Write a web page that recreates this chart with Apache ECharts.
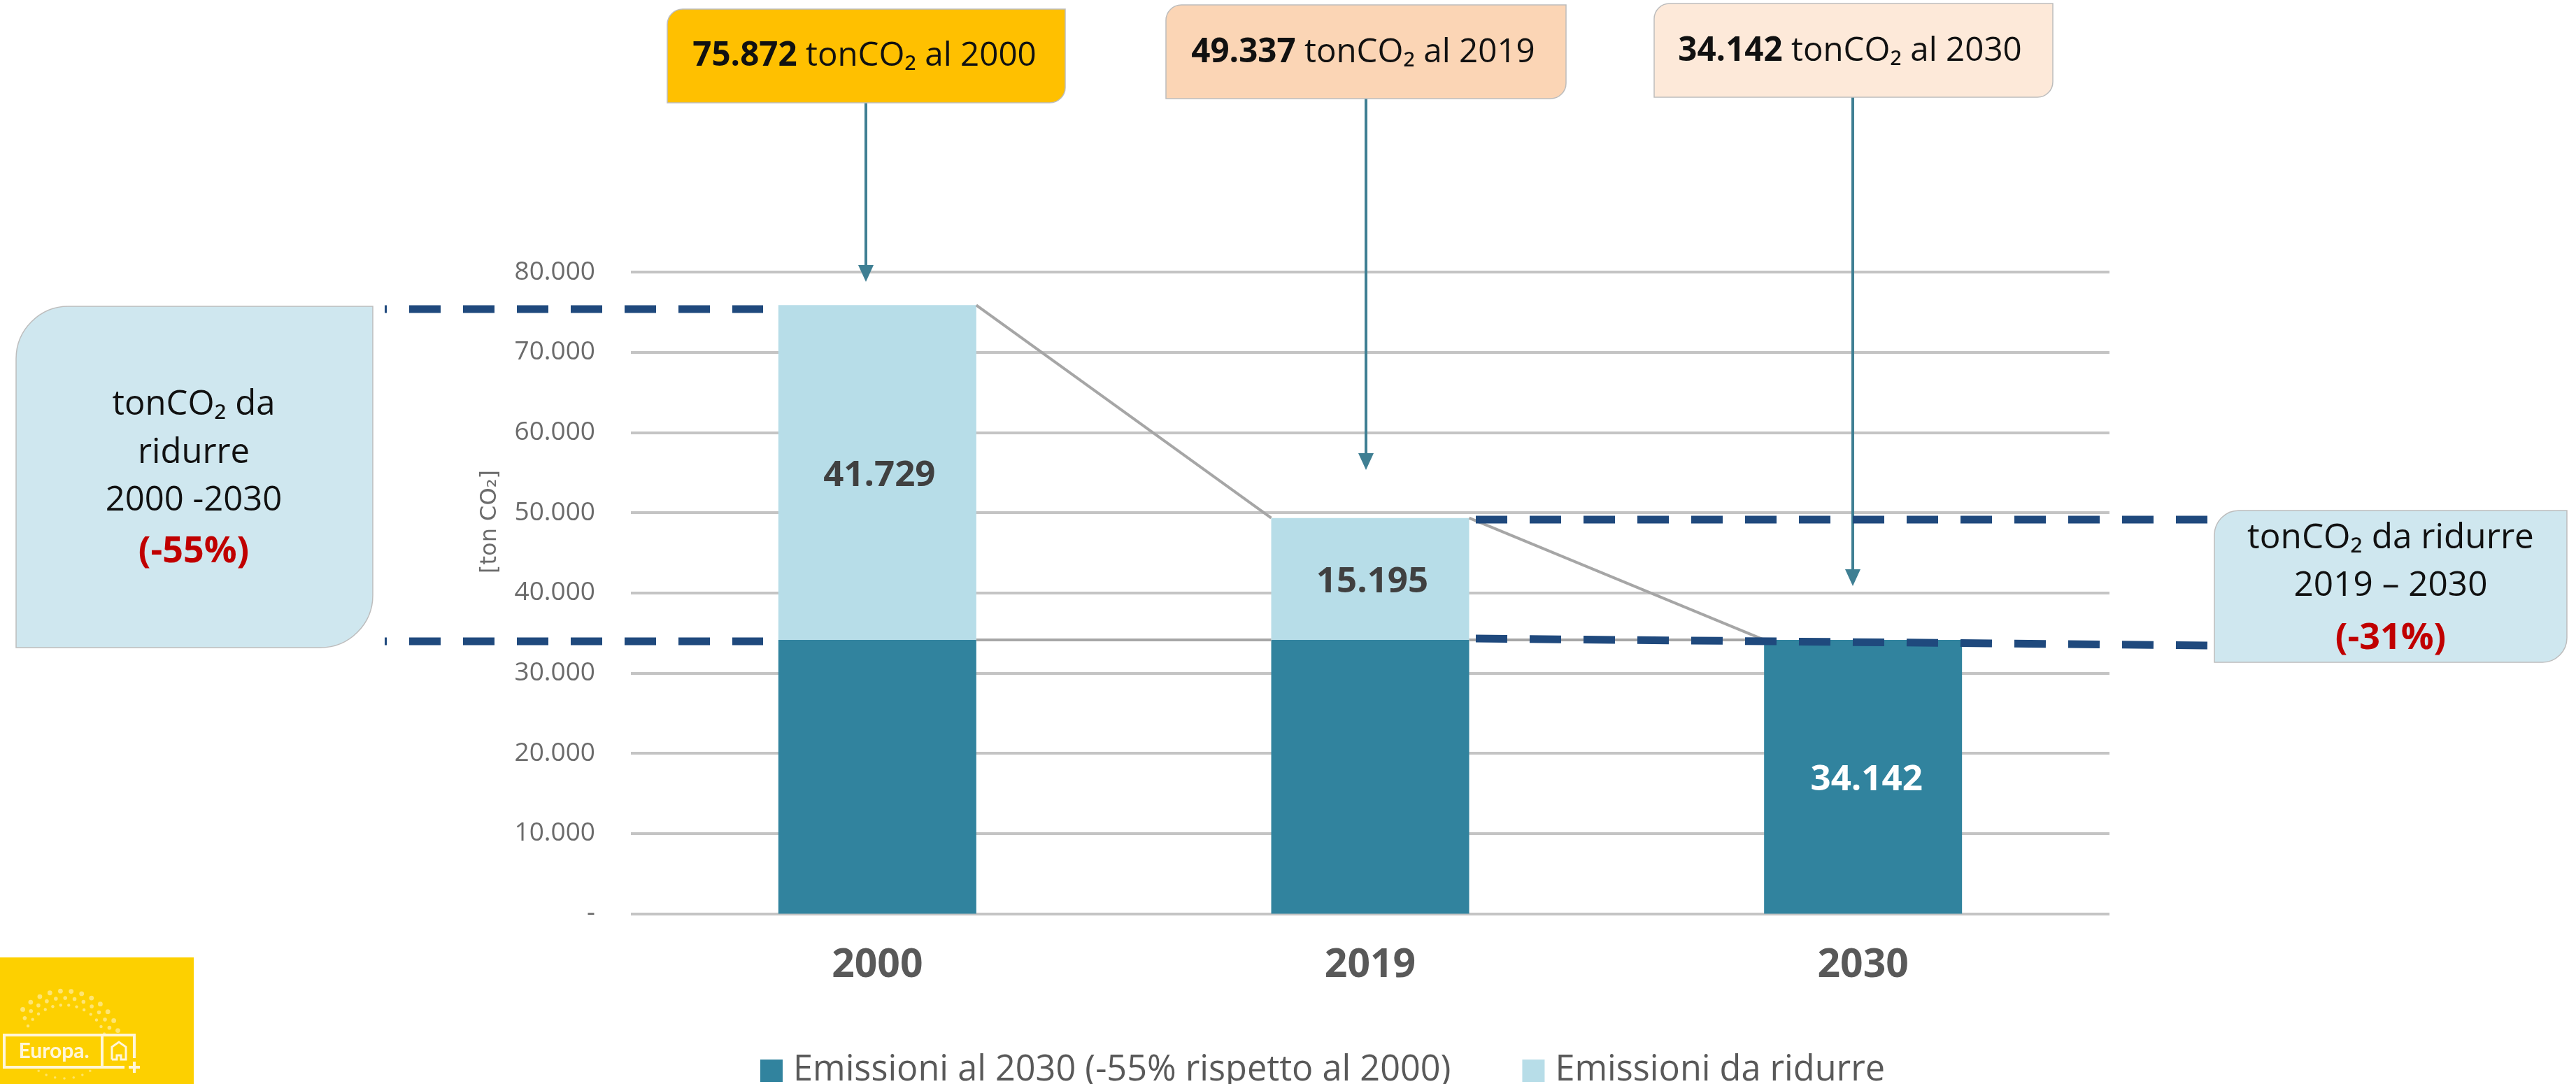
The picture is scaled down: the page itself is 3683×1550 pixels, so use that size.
<!DOCTYPE html>
<html>
<head>
<meta charset="utf-8">
<style>
  html, body { margin: 0; padding: 0; background: #fff; }
  #chart { width: 3683px; height: 1550px; }
</style>
<script src="https://cdn.jsdelivr.net/npm/echarts@6/dist/echarts.min.js"></script>
</head>
<body>
<div id="chart"></div>
<script>
const years = ["2000", "2019", "2030"];
const target = [34142, 34142, 34142];
const toReduce = [41729, 15195, 0];
const targetName = "Emissioni al 2030 (-55% rispetto al 2000)";
const reduceName = "Emissioni da ridurre";

const font = "Open Sans";
const barW = 283;
const dashBlue = "#1f497d";
const arrowCol = "#3f7f93";

function fmt(v) {
  return String(v).replace(/\B(?=(\d{3})+$)/g, ".");
}

// rows for the thin lines between the bars
const links = [];
for (let i = 0; i < years.length - 1; i++) {
  links.push([i, target[i] + toReduce[i], target[i + 1] + toReduce[i + 1]]);
  links.push([i, target[i], target[i + 1]]);
}

function box(x, y, w, h, r, fill) {
  return {
    type: "rect", z: 20,
    shape: { x: x, y: y, width: w, height: h, r: r },
    style: { fill: fill, stroke: "#bdbdbd", lineWidth: 1.5 }
  };
}

function calloutText(cx, cy, bold, rest) {
  return {
    type: "text", z: 21, x: cx, y: cy,
    style: {
      text: "{b|" + bold + "}{n|" + rest + "}",
      align: "center", verticalAlign: "middle",
      rich: {
        b: { fontFamily: font, fontSize: 47.5, fontWeight: "bold", fill: "#111" },
        n: { fontFamily: font, fontSize: 47.5, fill: "#111" }
      }
    }
  };
}

function plainText(cx, cy, text, size, color, weight) {
  return {
    type: "text", z: 21, x: cx, y: cy,
    style: {
      text: text, align: "center", verticalAlign: "middle",
      fontFamily: font, fontSize: size, fontWeight: weight || "normal", fill: color
    }
  };
}

function arrow(x, y1, y2) {
  return [
    { type: "line", z: 15, shape: { x1: x, y1: y1, x2: x, y2: y2 - 15 }, style: { stroke: arrowCol, lineWidth: 4 } },
    { type: "polygon", z: 15, shape: { points: [[x - 11, y2 - 24], [x + 11, y2 - 24], [x, y2]] }, style: { fill: arrowCol } }
  ];
}

function dashed(x1, y1, x2, y2, offset) {
  return {
    type: "line", z: 16,
    shape: { x1: x1, y1: y1, x2: x2, y2: y2 },
    style: { stroke: dashBlue, lineWidth: 11, lineDash: [45, 32], lineDashOffset: offset || 0 }
  };
}

// logo, bottom left corner
function logo() {
  const white = "#fff6d8";
  const items = [{ type: "rect", z: 5, shape: { x: 0, y: 1369, width: 277, height: 181 }, style: { fill: "#fdd000" } }];
  const rings = [[60, 2.2], [70, 2.8], [80, 3.4]];
  rings.forEach(function (ring, k) {
    for (let a = -150 + k * 6; a < 20; a += 11) {
      const t = a * Math.PI / 180;
      items.push({
        type: "circle", z: 6,
        shape: { cx: 92 + ring[0] * Math.cos(t), cy: 1497 + ring[0] * Math.sin(t), r: ring[1] },
        style: { fill: "rgba(255,255,255,0.45)" }
      });
    }
  });
  for (let a = 20; a < 160; a += 14) {
    const t = a * Math.PI / 180;
    items.push({
      type: "circle", z: 6,
      shape: { cx: 92 + 55 * Math.cos(t), cy: 1500 + 42 * Math.sin(t), r: 1.8 },
      style: { fill: "rgba(255,255,255,0.4)" }
    });
  }
  items.push({ type: "rect", z: 7, shape: { x: 5, y: 1480, width: 188, height: 47 }, style: { fill: "#fdd000" } });
  items.push({
    type: "polyline", z: 8,
    shape: { points: [[178, 1526], [6, 1526], [6, 1480], [192, 1480], [192, 1513]] },
    style: { fill: "none", stroke: white, lineWidth: 4 }
  });
  items.push({ type: "line", z: 8, shape: { x1: 146, y1: 1480, x2: 146, y2: 1526 }, style: { stroke: white, lineWidth: 4 } });
  items.push({
    type: "polyline", z: 8,
    shape: { points: [[160, 1515], [160, 1497], [170, 1490], [180, 1497], [180, 1515], [173, 1515], [173, 1509], [167, 1509], [167, 1515], [160, 1515]] },
    style: { fill: "none", stroke: white, lineWidth: 3 }
  });
  items.push({ type: "line", z: 8, shape: { x1: 184, y1: 1526, x2: 200, y2: 1526 }, style: { stroke: white, lineWidth: 4 } });
  items.push({ type: "line", z: 8, shape: { x1: 192, y1: 1518, x2: 192, y2: 1534 }, style: { stroke: white, lineWidth: 4 } });
  items.push({
    type: "text", z: 8, x: 77, y: 1503,
    style: { text: "Europa.", align: "center", verticalAlign: "middle", fontFamily: "Lato", fontWeight: "bold", fontSize: 30, fill: white }
  });
  return items;
}

const chart = echarts.init(document.getElementById("chart"));

chart.setOption({
  animation: false,
  backgroundColor: "#fff",
  grid: { left: 902, width: 2114, top: 389, height: 917.5 },
  xAxis: {
    type: "category", data: years,
    axisLine: { show: false }, axisTick: { show: false },
    axisLabel: { margin: 46, fontFamily: font, fontSize: 57, fontWeight: "bold", color: "#595959" }
  },
  yAxis: {
    type: "value", min: 0, max: 80000, interval: 10000,
    axisLine: { show: false }, axisTick: { show: false },
    axisLabel: {
      margin: 51, fontFamily: font, fontSize: 37, color: "#6b6b6b",
      formatter: function (v) { return v === 0 ? "-" : fmt(v); }
    },
    splitLine: { lineStyle: { color: "#c4c4c4", width: 4 } }
  },
  legend: {
    left: 1082, top: 1501, itemWidth: 32, itemHeight: 32, itemGap: 102,
    icon: "rect",
    data: [targetName, reduceName],
    textStyle: { fontFamily: font, fontSize: 50.4, color: "#595959", padding: [0, 0, 0, 10] }
  },
  series: [
    {
      name: targetName, type: "bar", stack: "tot", barWidth: barW, z: 3,
      data: target,
      itemStyle: { color: "#31839e" },
      label: {
        show: true, position: "inside", offset: [5, 5],
        fontFamily: font, fontSize: 51, fontWeight: "bold", color: "#fff",
        formatter: function (p) { return p.dataIndex === 2 ? fmt(p.value) : ""; }
      }
    },
    {
      name: reduceName, type: "bar", stack: "tot", barWidth: barW, z: 3,
      data: toReduce,
      itemStyle: { color: "#b7dde8" },
      label: {
        show: true, position: "inside", offset: [3, 5],
        fontFamily: font, fontSize: 51, fontWeight: "bold", color: "#404040",
        formatter: function (p) { return p.value ? fmt(p.value) : ""; }
      }
    },
    {
      type: "custom", z: 4, silent: true,
      data: links,
      renderItem: function (params, api) {
        const a = api.coord([api.value(0), api.value(1)]);
        const b = api.coord([api.value(0) + 1, api.value(2)]);
        return {
          type: "line",
          shape: { x1: a[0] + barW / 2, y1: a[1], x2: b[0] - barW / 2, y2: b[1] },
          style: { stroke: "#a6a6a6", lineWidth: 4 }
        };
      }
    }
  ],
  graphic: {
    elements: [].concat(
      logo(),
      [
        box(954, 13, 569, 134, [22, 0, 22, 0], "#ffc000"),
        box(1667, 7, 572, 134, [22, 0, 22, 0], "#fbd5b5"),
        box(2365, 5, 570, 134, [22, 0, 22, 0], "#fde9d9"),
        calloutText(1236, 80, "75.872", " tonCO₂ al 2000"),
        calloutText(1949, 75, "49.337", " tonCO₂ al 2019"),
        calloutText(2645, 73, "34.142", " tonCO₂ al 2030"),
        box(23, 438, 510, 488, [75, 0, 75, 0], "#cfe7ef"),
        plainText(277, 579, "tonCO₂ da", 49, "#111"),
        plainText(277, 648, "ridurre", 49, "#111"),
        plainText(277, 716, "2000 -2030", 49, "#111"),
        plainText(277, 789, "(-55%)", 52, "#c00000", "bold"),
        box(3166, 730, 504, 217, [35, 0, 35, 0], "#cfe7ef"),
        plainText(3418, 770, "tonCO₂ da ridurre", 49.5, "#111"),
        plainText(3418, 838, "2019 – 2030", 49.5, "#111"),
        plainText(3418, 913, "(-31%)", 52, "#c00000", "bold"),
        {
          type: "text", z: 21, x: 701, y: 746, rotation: Math.PI / 2,
          style: {
            text: "[ton CO₂]", align: "center", verticalAlign: "middle",
            fontFamily: "DejaVu Sans", fontSize: 32, fill: "#6b6b6b"
          }
        },
        dashed(550, 442, 1091, 442, 42),
        dashed(550, 917, 1091, 917, 42),
        dashed(2110, 743, 3158, 743),
        dashed(2110, 913, 3161, 923)
      ],
      arrow(1238, 147, 403),
      arrow(1953, 141, 672),
      arrow(2649, 139, 838)
    )
  }
});
</script>
</body>
</html>
